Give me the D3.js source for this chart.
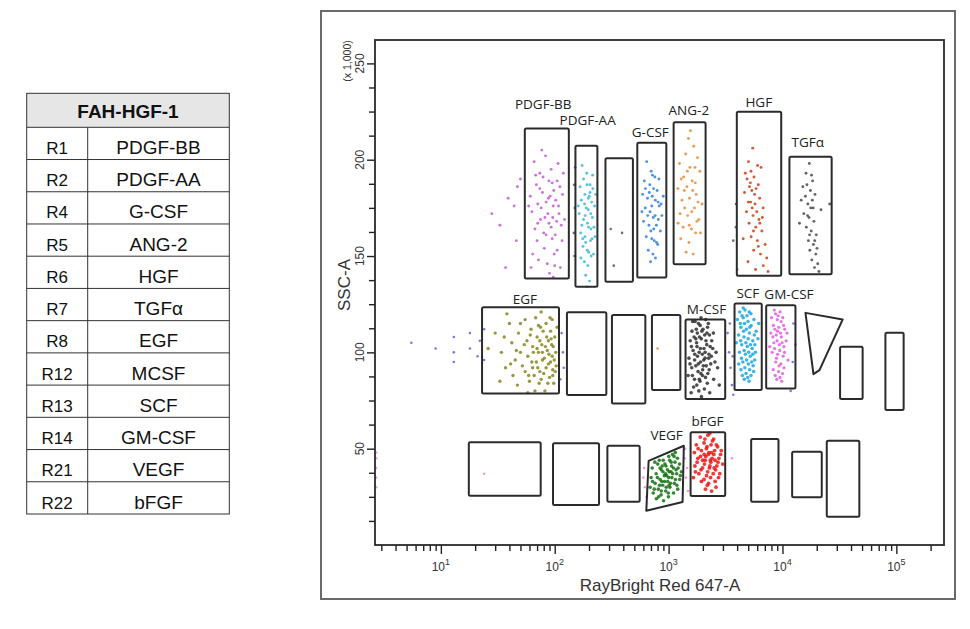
<!DOCTYPE html>
<html><head><meta charset="utf-8">
<script src="https://cdn.jsdelivr.net/npm/d3@7"></script>
<style>body{margin:0;background:#fff}svg{display:block}</style></head>
<body><svg id="c" width="970" height="629"></svg>
<script>
// ---------- table data ----------
const tableTitle = "FAH-HGF-1";
const regionIds = ["R1","R2","R4","R5","R6","R7","R8","R12","R13","R14","R21","R22"];
const regionNames = ["PDGF-BB","PDGF-AA","G-CSF","ANG-2","HGF","TGF\u03b1","EGF","MCSF","SCF","GM-CSF","VEGF","bFGF"];

// ---------- axis data ----------
const xMajorTicks = [10,100,1000,10000,100000];
const xMajorExp = ["1","2","3","4","5"];
const xMinorTicks = [3,4,5,6,7,8,9,20,30,40,50,60,70,80,90,200,300,400,500,600,700,800,900,
  2000,3000,4000,5000,6000,7000,8000,9000,20000,30000,40000,50000,60000,70000,80000,90000,200000];
const yMajorTicks = [50,100,150,200,250];
const yMinorTicks = [12.5,25,37.5,62.5,75,87.5,112.5,125,137.5,162.5,175,187.5,212.5,225,237.5];
const xTitle = "RayBright Red 647-A";
const yTitle = "SSC-A";
const yUnit = "(x 1,000)";

// ---------- gates (data units: fluorescence, SSC x1000) ----------
const gateRects = [
  [54.6,133,138.4,216.2],[152,237,134.0,207.2],[279,486,136.6,200.7],[531,955,138.9,208.8],
  [1107,2113,145.8,219.4],[3972,9750,139.8,224.9],[11510,27040,140.6,201.5],
  [23,109,78.7,123.4],[128,284,77.8,120.8],[318,625,73.5,119.4],[714,1268,80.4,119.4],
  [1409,3141,75.8,117.1],[3793,6577,80.4,125.4],[7194,13000,81.3,124.5],
  [32060,50580,75.8,102.9],[80170,115900,70.1,110.2],
  [17.6,75.3,25.6,53.3],[96.6,245,20.8,52.8],[290,557,22.5,51.5],[1560,3141,25.4,58.5],
  [5309,9226,22.5,55.0],[12160,22130,24.8,48.4],[24490,47320,14.7,54.1]
];
const gatePolys = [
  [[15920,120.5],[33810,117.1],[21130,90.8],[18710,88.7]],
  [[668,43.7],[1361,51.5],[1327,22.3],[637,17.8]]
];
const gateLabels = ["PDGF-BB","PDGF-AA","G-CSF","ANG-2","HGF","TGF\u03b1","EGF","M-CSF","SCF","GM-CSF","VEGF","bFGF"];
const labelX = [79.2,194.5,691,1507,6194,16680,54.6,2153,4967,11400,960,2198];
const labelY = [228.9,220.5,214.5,225.7,229.9,208.8,127.5,122.5,130.6,130.3,57.1,64.3];

// ---------- events ----------
const pdgfBB = [[66,199],[74,193],[83,202],[93,195],[105,189],[69,187],[78,183],[89,189],[98,184],[111,186],[61,181],[71,177],[84,178],[91,181],[108,176],[117,182],[63,173],[75,169],[87,172],[96,170],[109,172],[67,164],[80,162],[89,167],[101,161],[114,166],[70,158],[81,154],[95,159],[105,153],[72,148],[86,146],[99,151],[62,144],[90,141],[112,144],[77,205],[107,198],[59,176],[122,169],[84,161],[97,176],[71,167],[102,179],[79,191],[119,193],[64,151],[97,139],[88,180],[76,175],[93,165],[68,192],[104,168],[82,170],[116,158],[74,185],[95,188],[100,145],
  [28,172],[33,166],[39,180],[44,176],[47,186],[46,158],[37,144],[50,190]];
const pdgfAA = [[174,197],[191,193],[204,187],[167,186],[184,182],[201,181],[216,185],[171,179],[189,175],[197,174],[211,178],[224,176],[164,172],[179,169],[194,167],[207,172],[221,165],[169,162],[184,160],[198,165],[213,159],[177,155],[193,153],[206,158],[219,151],[182,147],[195,145],[209,150],[187,140],[202,137],[192,134],[179,190],[215,192],[161,176],[229,182],[187,157],[204,183],[173,166],[197,180],[185,171],[208,164],[192,187],[176,159],[214,170],[199,152],[183,177],[170,149],[226,160]];
const gcsf = [[642,199],[703,194],[757,191],[612,189],[684,187],[738,185],[822,190],[592,182],[653,180],[718,181],[793,184],[858,177],[624,175],[687,173],[762,171],[827,176],[603,168],[672,166],[741,164],[813,169],[874,171],[637,160],[712,159],[783,157],[846,163],[663,153],[728,151],[803,156],[694,147],[767,149],[583,173],[897,181],[722,192],[656,171],[764,179],[699,163],[733,170],[808,178],[677,183],[748,158],[626,185],[780,166],[712,176]];
const ang2 = [[1493,211],[1412,203],[1662,207],[1247,198],[1538,196],[1794,201],[1356,191],[1611,189],[1883,194],[1208,185],[1447,186],[1716,188],[1312,179],[1526,180],[1745,182],[1967,177],[1262,172],[1471,171],[1688,175],[1842,169],[1343,165],[1586,164],[1771,168],[1276,159],[1509,157],[1729,162],[1426,152],[1643,151],[1558,215],[1384,175],[1627,184],[1906,162],[1213,167],[1462,194],[1598,173],[1705,196],[1371,184],[1814,178],[1519,166],[1290,190]];
const hgf = [[5480,206],[5030,199],[6050,197],[4720,193],[5620,191],[6480,196],[5230,188],[5870,185],[4640,183],[5380,184],[6310,180],[5010,178],[5740,177],[6770,175],[4830,173],[5520,171],[6220,169],[5090,167],[5830,165],[6590,163],[5310,160],[6020,158],[7040,156],[5590,153],[6410,151],[7280,149],[4980,147],[6790,145],[5810,143],[7460,142],[4520,159],[6130,187],[5290,194],[5690,182],[6330,167],[5420,175],[5130,186],[5940,173],[5560,163],[6660,170],[4890,190],[5250,178],[6140,155]];
const tgfa = [[17200,198],[16100,193],[18400,189],[15100,186],[17600,184],[19300,182],[14600,179],[16700,177],[18600,175],[15400,172],[17100,170],[18900,168],[16200,165],[17900,163],[19800,161],[16900,158],[18700,156],[17400,153],[19600,151],[18100,148],[20400,146],[19100,144],[20900,142],[14100,167],[21800,174],[16400,187],[18300,179],[17300,161],[15900,181],[17700,175],[19200,158],[16600,171],[18000,192],[20100,154],[26000,177]];
const egf = [[30,110],[34,100],[37,92],[33,85],[40,115],[42,105],[45,96],[43,88],[48,110],[50,100],[52,93],[47,83],[55,117],[57,106],[58,98],[55,90],[60,85],[62,112],[64,103],[63,95],[66,88],[68,118],[70,108],[72,100],[71,92],[73,84],[75,113],[77,104],[78,96],[80,89],[82,80],[84,115],[85,108],[86,101],[88,94],[90,87],[92,111],[94,104],[95,98],[96,91],[98,84],[100,108],[102,100],[103,93],[105,113],[76,121],[67,80],[58,79],[91,118],[81,97],[69,95],[88,106],[74,90],[99,96],[26,102],[38,120],
  [61,109],[79,111],[93,107],[74,106],[83,103],[97,103],[65,100],[89,99],[78,100],[92,95],[84,92],[70,102],[96,88],[87,84],[76,86],[101,90],[64,92],[54,104],[46,101],[41,94],[36,108],[50,115],[59,88],[72,114],[95,117]];
const mcsf = [[1712,116],[1893,114],[2117,117],[1604,111],[1787,110],[2006,112],[2283,109],[1548,106],[1762,105],[1938,107],[2163,104],[2391,106],[1641,101],[1856,100],[2044,102],[2262,99],[1509,97],[1693,96],[1907,95],[2088,97],[2344,94],[1597,92],[1814,90],[1992,91],[2211,89],[1688,86],[1886,85],[2109,87],[2487,86],[1659,82],[1843,80],[2061,81],[2296,79],[1944,77],[2613,100],[2694,92],[1483,88],[2197,113],[1776,103],[1977,99],[2142,93],[1871,108],[2036,96],[1733,93],[2441,102],[1628,116],[2786,83],[1577,79],[1751,112],[1926,118],[2233,115],[1586,103],[1674,108],[2372,98],[1823,94],[2128,106],[2271,91],[1983,88],[1768,83],[2186,84],[1541,94],[2474,110],[1903,102],[2073,109],[1697,99],[2316,103],[1862,86],[1616,88],[2552,95],[1958,111],[2248,97],[1794,98],[2018,93],[1830,115],[2095,100],[1920,89],[2170,110],[1735,107]];
const scf = [[4214,121],[4688,122],[5287,120],[4016,117],[4523,118],[4978,116],[5613,117],[4312,113],[4816,112],[5304,114],[5874,111],[4117,109],[4592,108],[5123,110],[5488,106],[6087,107],[4386,104],[4912,103],[5417,102],[4193,100],[4725,99],[5216,98],[5792,100],[4487,95],[5012,94],[5526,93],[4318,91],[4784,89],[5291,88],[4617,86],[5089,85],[6183,115],[3927,105],[5704,96],[4883,119],[4412,119],[5106,121],[4262,115],[4641,115],[5168,113],[4553,111],[4994,107],[5662,109],[4297,106],[4769,105],[5243,104],[4605,101],[5047,100],[5493,99],[4361,97],[4846,96],[5362,95],[4672,92],[5141,91],[4438,88],[4957,87],[5583,90],[4520,123],[5720,104],[4130,94]];
const gmcsf = [[8480,122],[9530,121],[8020,118],[9010,117],[10060,118],[8320,114],[9280,113],[10470,112],[7910,110],[8830,109],[9770,108],[10960,110],[8410,105],[9380,104],[10290,103],[8130,100],[9060,99],[10140,98],[8720,95],[9690,94],[11180,96],[8290,91],[9240,90],[10020,89],[8910,86],[9840,85],[7720,103],[10780,106],[9050,111],[8690,120],[9720,116],[8570,112],[9610,110],[10230,114],[8970,106],[9920,105],[8520,102],[9470,101],[10420,100],[8860,97],[9330,93],[10310,92],[8630,88],[9510,87],[9150,119],[8240,108]];
const vegf = [[718,40],[803,42],[897,44],[1004,46],[1146,48],[702,35],[778,37],[863,39],[948,41],[1053,43],[1197,45],[688,30],[762,32],[843,34],[917,36],[1013,38],[1102,40],[1246,42],[733,27],[812,29],[887,31],[983,33],[1068,35],[1177,37],[781,24],[858,26],[943,28],[1027,30],[1123,32],[1253,34],[903,23],[997,25],[1104,27],[1203,29],[1296,38],[828,44],[1083,47],[962,36],[1137,43],[871,33],[757,43],[842,40],[928,42],[1022,44],[1117,46],[723,33],[798,35],[892,38],[977,39],[1061,41],[1163,39],[748,29],[832,31],[922,33],[1003,35],[1087,37],[1212,40],[864,28],[953,30],[1038,32],[1148,34],[1268,36],[817,25],[993,27],[1183,31],[940,37],[1050,38],[1010,31],[880,41]];
const bfgf = [[1897,56],[2214,57],[2486,55],[1752,52],[2047,53],[2361,52],[2693,51],[1684,48],[1942,49],[2256,48],[2537,49],[2861,47],[1808,45],[2097,44],[2412,45],[2716,43],[1703,41],[1986,40],[2307,41],[2588,39],[1846,37],[2153,36],[2463,37],[1941,33],[2243,32],[2562,33],[2107,29],[2387,28],[2994,42],[1652,35],[2812,37],[2146,50],[2328,44],[2052,47],[2083,55],[2427,54],[1817,50],[2176,51],[2628,52],[1903,46],[2232,47],[2496,47],[2766,45],[1781,43],[2064,42],[2348,43],[2653,41],[1924,39],[2204,38],[2511,40],[2744,35],[2046,34],[2334,35],[2187,31],[2607,30],[1721,38],[2903,49],[2296,58],[2120,46],[2380,48],[2280,40],[1990,44],[2560,44]];
const strayViolet = [[5.5,105],[9,102],[13,108],[13,100],[13,95],[18,110],[18,102],[22,106],[21,98],[24,112],[24,96],[115,110],[120,92],[118,100],[112,86],[3300,110],[3400,100],[3500,92],[3600,83],[3650,98],[3450,115],[3700,78],[12500,115],[13000,104],[12300,95],[11800,80]];
const strayPink = [[600,35],[620,30],[640,25],[610,40],[1400,50],[1450,40],[1420,35],[1380,45],[1480,28],[3600,45],[2.7,30],[2.7,35],[2.7,40],[2.7,45],[2.7,48],[24,37]];
const strayGray = [[148,187],[150,175],[147,162],[149,150],[151,196],[310,164],[390,162],[330,145],[3900,165],[3700,158],[4000,143],[3900,177]];
const strayOrange = [[800,102]];

const populations = [pdgfBB,pdgfAA,gcsf,ang2,hgf,tgfa,egf,mcsf,scf,gmcsf,vegf,bfgf,strayViolet,strayPink,strayGray,strayOrange];
const popColors = ["#c45bd6","#38b8d8","#2e7fd8","#ec8a35","#cc3d12","#4a4a4a","#86861e","#2e2e2e","#1aa6e0","#e05ae0","#127012","#f01414","#6a62cc","#e08ae0","#555555","#ec8a35"];

// ---------- draw ----------
const svg = d3.select("#c");
const FONT = "Liberation Sans, Arial, sans-serif";
const popRadius = [1.45,1.45,1.45,1.45,1.45,1.45,1.7,1.8,1.75,1.6,1.8,1.9,1.3,1.3,1.3,1.3];

// table
const tX0 = 26.7, tX1 = 229.3, tDiv = 87.7, tTop = 93.3, tHead = 127.3, tBot = 514;
const rows = d3.scaleBand().domain(regionIds).range([tHead, tBot]);
const tg = svg.append("g");
tg.append("rect").attr("x",tX0).attr("y",tTop).attr("width",tX1-tX0).attr("height",tHead-tTop).attr("fill","#e6e6e6");
tg.append("text").attr("x",(tX0+tX1)/2).attr("y",tHead-9).attr("text-anchor","middle")
  .attr("font-family",FONT).attr("font-weight","bold").attr("font-size",19).attr("fill","#111").text(tableTitle);
regionIds.forEach((id,i)=>{
  const yy = rows(id);
  tg.append("line").attr("x1",tX0).attr("x2",tX1).attr("y1",yy).attr("y2",yy).attr("stroke","#333").attr("stroke-width",1);
  tg.append("text").attr("x",(tX0+tDiv)/2).attr("y",yy+rows.bandwidth()-5.5).attr("text-anchor","middle")
    .attr("font-family",FONT).attr("font-size",17).attr("fill","#111").text(id);
  tg.append("text").attr("x",(tDiv+tX1)/2).attr("y",yy+rows.bandwidth()-5.5).attr("text-anchor","middle")
    .attr("font-family",FONT).attr("font-size",19).attr("fill","#111").text(regionNames[i]);
});
tg.append("rect").attr("x",tX0).attr("y",tTop).attr("width",tX1-tX0).attr("height",tBot-tTop).attr("fill","none").attr("stroke","#333").attr("stroke-width",1);
tg.append("line").attr("x1",tDiv).attr("x2",tDiv).attr("y1",tHead).attr("y2",tBot).attr("stroke","#333").attr("stroke-width",1);

// plot frame
svg.append("rect").attr("x",321).attr("y",11).attr("width",634).attr("height",588).attr("fill","none").attr("stroke","#6a6a6a").attr("stroke-width",2);

const L=375, R=944, T=40, B=545;
const x = d3.scaleLog().domain([2.64,262144]).range([L,R]);
const y = d3.scaleLinear().domain([0,262.144]).range([B,T]);

// axes
const axX = svg.append("g").attr("transform",`translate(0,${B})`)
  .call(d3.axisBottom(x).tickValues(xMinorTicks).tickSize(6).tickFormat(""));
const axXM = svg.append("g").attr("transform",`translate(0,${B})`)
  .call(d3.axisBottom(x).tickValues(xMajorTicks).tickSize(9).tickFormat(""));
[axX,axXM].forEach(g=>{g.select(".domain").remove(); g.selectAll("line").attr("stroke","#222").attr("stroke-width",1.4);});
xMajorTicks.forEach((v,i)=>{
  const t = svg.append("text").attr("x",x(v)).attr("y",571).attr("text-anchor","middle")
    .attr("font-family",FONT).attr("font-size",12).attr("fill","#333");
  t.append("tspan").text("10");
  t.append("tspan").attr("dy",-6).attr("font-size",9).text(xMajorExp[i]);
});
const axY = svg.append("g").attr("transform",`translate(${L},0)`)
  .call(d3.axisLeft(y).tickValues(yMinorTicks).tickSize(6).tickFormat(""));
const axYM = svg.append("g").attr("transform",`translate(${L},0)`)
  .call(d3.axisLeft(y).tickValues(yMajorTicks).tickSize(8).tickFormat(""));
[axY,axYM].forEach(g=>{g.select(".domain").remove(); g.selectAll("line").attr("stroke","#222").attr("stroke-width",1.4);});
yMajorTicks.forEach(v=>{
  svg.append("text").attr("transform",`translate(364,${y(v)}) rotate(-90)`).attr("text-anchor","middle")
    .attr("font-family",FONT).attr("font-size",12).attr("fill","#333").text(v);
});
svg.append("text").attr("transform",`translate(351,61) rotate(-90)`).attr("text-anchor","middle")
  .attr("font-family",FONT).attr("font-size",10.5).attr("fill","#333").text(yUnit);
svg.append("text").attr("transform",`translate(350,285) rotate(-90)`).attr("text-anchor","middle")
  .attr("font-family",FONT).attr("font-size",17).attr("fill","#333").text(yTitle);
svg.append("text").attr("x",660).attr("y",591).attr("text-anchor","middle")
  .attr("font-family",FONT).attr("font-size",17).attr("fill","#333").text(xTitle);

// events
const dots = svg.append("g");
populations.forEach((pop,i)=>{
  dots.selectAll(null).data(pop).enter().append("circle")
    .attr("cx",d=>x(d[0])).attr("cy",d=>y(d[1])).attr("r",popRadius[i])
    .attr("fill",popColors[i]).attr("fill-opacity",0.85);
});

// gates
const gg = svg.append("g").attr("fill","none").attr("stroke","#2b2b2b").attr("stroke-width",2).attr("stroke-linejoin","round");
gg.selectAll("rect").data(gateRects).enter().append("rect")
  .attr("x",d=>x(d[0])).attr("y",d=>y(d[3]))
  .attr("width",d=>x(d[1])-x(d[0])).attr("height",d=>y(d[2])-y(d[3])).attr("rx",1.5);
const line = d3.line().x(d=>x(d[0])).y(d=>y(d[1])).curve(d3.curveLinearClosed);
gg.selectAll("path").data(gatePolys).enter().append("path").attr("d",line);

// gate labels
gateLabels.forEach((s,i)=>{
  svg.append("text").attr("x",x(labelX[i])).attr("y",y(labelY[i])).attr("dy","0.35em").attr("text-anchor","middle")
    .attr("font-family","Open Sans, sans-serif").attr("font-size",13.5).attr("fill","#222").text(s);
});

// plot border
svg.append("rect").attr("x",L).attr("y",T).attr("width",R-L).attr("height",B-T).attr("fill","none").attr("stroke","#2a2a2a").attr("stroke-width",1.8);
</script>
</body></html>
